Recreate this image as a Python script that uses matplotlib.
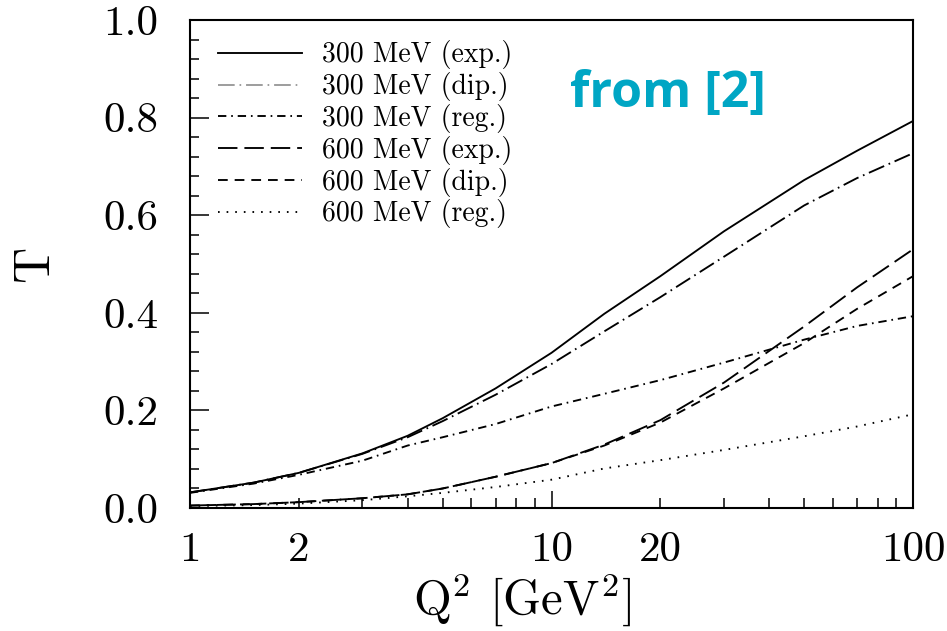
import numpy as np
import matplotlib
matplotlib.use("Agg")
import matplotlib.pyplot as plt
from matplotlib.ticker import FixedLocator, FuncFormatter

# Q^2 grid (GeV^2) and transparency values
q2 = [1, 1.5, 2, 3, 4, 5, 7, 10, 14, 20, 30, 50, 70, 100]

t_300_exp = [0.032, 0.052, 0.072, 0.112, 0.148, 0.184, 0.245, 0.318, 0.398, 0.475, 0.567, 0.672, 0.732, 0.793]
t_300_dip = [0.032, 0.052, 0.072, 0.111, 0.145, 0.178, 0.232, 0.295, 0.362, 0.432, 0.515, 0.620, 0.676, 0.727]
t_300_reg = [0.031, 0.050, 0.068, 0.097, 0.128, 0.145, 0.172, 0.208, 0.234, 0.262, 0.298, 0.345, 0.373, 0.393]
t_600_exp = [0.005, 0.008, 0.012, 0.020, 0.028, 0.040, 0.064, 0.092, 0.130, 0.180, 0.257, 0.372, 0.452, 0.530]
t_600_dip = [0.005, 0.008, 0.012, 0.020, 0.028, 0.040, 0.064, 0.092, 0.128, 0.175, 0.245, 0.338, 0.408, 0.475]
t_600_reg = [0.004, 0.006, 0.009, 0.016, 0.024, 0.031, 0.043, 0.058, 0.081, 0.098, 0.119, 0.147, 0.167, 0.192]

labels = ["300 MeV (exp.)", "300 MeV (dip.)", "300 MeV (reg.)",
          "600 MeV (exp.)", "600 MeV (dip.)", "600 MeV (reg.)"]
x_tick_vals = [1, 2, 10, 20, 100]
y_tick_vals = [0.0, 0.2, 0.4, 0.6, 0.8, 1.0]

plt.rcParams["font.family"] = "cmr10"
plt.rcParams["mathtext.fontset"] = "cm"
plt.rcParams["axes.formatter.use_mathtext"] = True
plt.rcParams["lines.scale_dashes"] = False

fig = plt.figure(figsize=(9.47, 6.31), dpi=100)
ax = fig.add_axes([190 / 947, 1 - 508 / 631, 723 / 947, 488 / 631])

series = [t_300_exp, t_300_dip, t_300_reg, t_600_exp, t_600_dip, t_600_reg]
dashes = [None, [12, 3.5, 1.2, 3.5], [6, 3.5, 1.2, 3.5], [14, 5], [7, 5], [1.2, 5]]
for ys, lab, d in zip(series, labels, dashes):
    ln, = ax.plot(q2, ys, color="black", lw=1.35, label=lab)
    if d is not None:
        ln.set_dashes(d)

ax.set_xscale("log")
ax.set_xlim(1, 100)
ax.set_ylim(0, 1.0)

# x ticks: long at decades, short in between, labels at 1, 2, 10, 20, 100
ax.xaxis.set_major_locator(FixedLocator([1, 10, 100]))
ax.xaxis.set_minor_locator(FixedLocator([2, 3, 4, 5, 6, 7, 8, 9, 20, 30, 40, 50, 60, 70, 80, 90]))
ax.xaxis.set_major_formatter(FuncFormatter(lambda v, p: "%d" % round(v)))
ax.xaxis.set_minor_formatter(FuncFormatter(lambda v, p: "%d" % round(v) if round(v) in x_tick_vals else ""))

ax.set_yticks(y_tick_vals)
ax.set_yticklabels(["%.1f" % v for v in y_tick_vals])
ax.yaxis.set_minor_locator(FixedLocator(np.arange(0.04, 1.0, 0.04)))

ax.tick_params(axis="both", which="both", direction="in", top=False, right=False,
               labelsize=31, width=1.1)
ax.tick_params(axis="y", which="major", length=14, pad=23)
ax.tick_params(axis="y", which="minor", length=6.5)
ax.tick_params(axis="x", which="major", length=12, pad=17)
ax.tick_params(axis="x", which="minor", length=7, pad=17)

for s in ax.spines.values():
    s.set_linewidth(1.5)

ax.set_xlabel(r"Q$^2$ [GeV$^2$]", fontsize=35)
ax.xaxis.set_label_coords((522 - 190) / 723, -0.13)
ax.set_ylabel("T", fontsize=36)
ax.yaxis.set_label_coords(-0.183, 0.5)

leg = ax.legend(loc="upper left", bbox_to_anchor=(0.039, 0.958), frameon=False,
                fontsize=20, handlelength=3.0, handletextpad=0.75,
                labelspacing=0.1, borderpad=0, borderaxespad=0)
leg.get_lines()[1].set_color("#999999")

ax.text((570 - 190) / 723, (508 - 107) / 488, "from [2]", transform=ax.transAxes,
        fontsize=36, fontweight="bold", family="Open Sans", color="#00a6c4",
        va="baseline", ha="left")

fig.savefig("out.png", dpi=100)
